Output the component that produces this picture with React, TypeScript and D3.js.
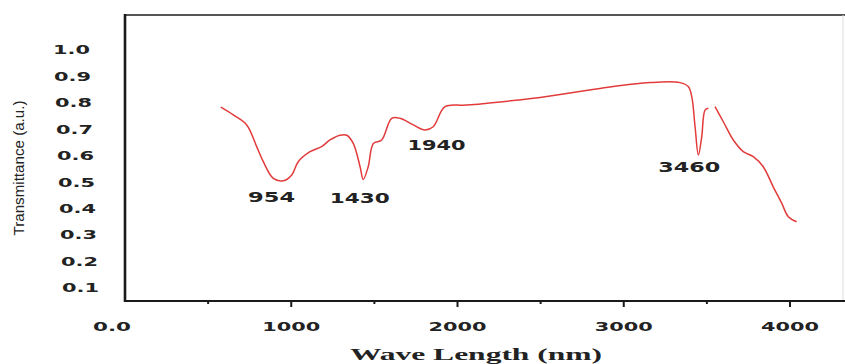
import * as d3 from "d3";

// spectrum (nm, transmittance); null marks the break in the trace
const waveNm = [576, 651, 732, 792, 832, 892, 952, 1003, 1042, 1113, 1183, 1233, 1293, 1334, 1373, 1414, 1433, 1463, 1494, 1544, 1604, 1654, 1734, 1805, 1854, 1925, 2055, 2456, 2857, 3158, 3338, 3388, 3409, 3429, 3449, 3469, 3489, 3509, 3529, 3549, 3599, 3659, 3719, 3779, 3839, 3899, 3950, 3990, 4040];
const transmittance = [0.781, 0.752, 0.714, 0.632, 0.575, 0.512, 0.503, 0.525, 0.575, 0.613, 0.632, 0.657, 0.675, 0.675, 0.644, 0.556, 0.508, 0.556, 0.644, 0.657, 0.739, 0.739, 0.714, 0.695, 0.707, 0.783, 0.789, 0.815, 0.852, 0.874, 0.874, 0.859, 0.821, 0.707, 0.600, 0.669, 0.770, 0.777, null, 0.783, 0.726, 0.657, 0.613, 0.594, 0.556, 0.480, 0.418, 0.367, 0.348];

const peaks = [954, 1430, 1940, 3460];
const peakLabels = ["954", "1430", "1940", "3460"];

const yTicks = [0.1, 0.2, 0.3, 0.4, 0.5, 0.6, 0.7, 0.8, 0.9, 1.0];
const xTicks = [0, 1000, 2000, 3000, 4000];
const xMinorTicks = [500, 1500, 2500, 3500];

export default function App() {
  const W = 845;
  const H = 364;
  const axisY = 301;

  const x = d3.scaleLinear().domain([0, 4000]).range([125, 790]);
  const y = d3.scaleLinear().domain([0, 1]).range([313.7, 49.3]);

  const points = waveNm.map((w, i) => ({ w, t: transmittance[i] }));
  const line = d3.line<{ w: number; t: number | null }>()
    .defined(d => d.t !== null)
    .x(d => x(d.w))
    .y(d => y(d.t as number))
    .curve(d3.curveCatmullRom.alpha(0.5));

  // label placement relative to each peak: [dx, baseline y, width]
  const labelPos = [
    [-12, 202, 47],
    [-3, 203, 60],
    [-11, 150, 58],
    [-11, 172, 62],
  ];

  return (
    <svg width={W} height={H} style={{ position: "absolute", left: 0, top: 0, background: "#fff" }}>
      {/* frame */}
      <line x1={125} x2={845} y1={15} y2={15} stroke="#555" strokeWidth={2} />
      <line x1={843} x2={843} y1={15} y2={axisY} stroke="#ddd" strokeWidth={1} />
      <line x1={125} x2={125} y1={14} y2={axisY + 1} stroke="#1a1a1a" strokeWidth={2.6} />
      <line x1={124} x2={845} y1={axisY} y2={axisY} stroke="#1a1a1a" strokeWidth={2.2} />

      {/* x ticks */}
      {xTicks.filter(d => d > 0).map(d => (
        <line key={"t" + d} x1={x(d)} x2={x(d)} y1={axisY} y2={axisY + 6} stroke="#1a1a1a" strokeWidth={2} />
      ))}
      {xMinorTicks.map(d => (
        <line key={"m" + d} x1={x(d)} x2={x(d)} y1={axisY} y2={axisY + 3} stroke="#1a1a1a" strokeWidth={2} />
      ))}
      {xTicks.map(d => (
        <text key={"xl" + d} x={d === 0 ? x(d) - 13 : x(d)} y={331} textAnchor="middle"
          fontFamily="DejaVu Sans" fontWeight="bold" fontSize={13} fill="#222"
          textLength={d === 0 ? 38 : 58} lengthAdjust="spacingAndGlyphs">
          {d === 0 ? "0.0" : String(d)}
        </text>
      ))}

      {/* y tick labels */}
      {yTicks.map(v => (
        <text key={"yl" + v} x={100 - 10 * v} y={y(v) + 5} textAnchor="end"
          fontFamily="DejaVu Sans" fontWeight="bold" fontSize={12.5} fill="#222"
          textLength={37} lengthAdjust="spacingAndGlyphs">
          {v.toFixed(1)}
        </text>
      ))}

      {/* axis titles */}
      <text transform="translate(24,168) rotate(-90)" textAnchor="middle"
        fontFamily="Liberation Sans" fontSize={15} fill="#222"
        textLength={135} lengthAdjust="spacingAndGlyphs">
        Transmittance (a.u.)
      </text>
      <text x={476} y={360} textAnchor="middle" fontFamily="Liberation Serif" fontWeight="bold"
        fontSize={16} fill="#222" textLength={252} lengthAdjust="spacingAndGlyphs">
        Wave Length (nm)
      </text>

      {/* spectrum */}
      <path d={line(points) ?? ""} fill="none" stroke="#e23b3b" strokeWidth={1.5} strokeLinejoin="round" />

      {/* peak labels */}
      {peaks.map((p, i) => (
        <text key={"p" + p} x={x(p) + labelPos[i][0]} y={labelPos[i][1]} textAnchor="middle"
          fontFamily="DejaVu Sans" fontWeight="bold" fontSize={14} fill="#222"
          textLength={labelPos[i][2]} lengthAdjust="spacingAndGlyphs">
          {peakLabels[i]}
        </text>
      ))}
    </svg>
  );
}
